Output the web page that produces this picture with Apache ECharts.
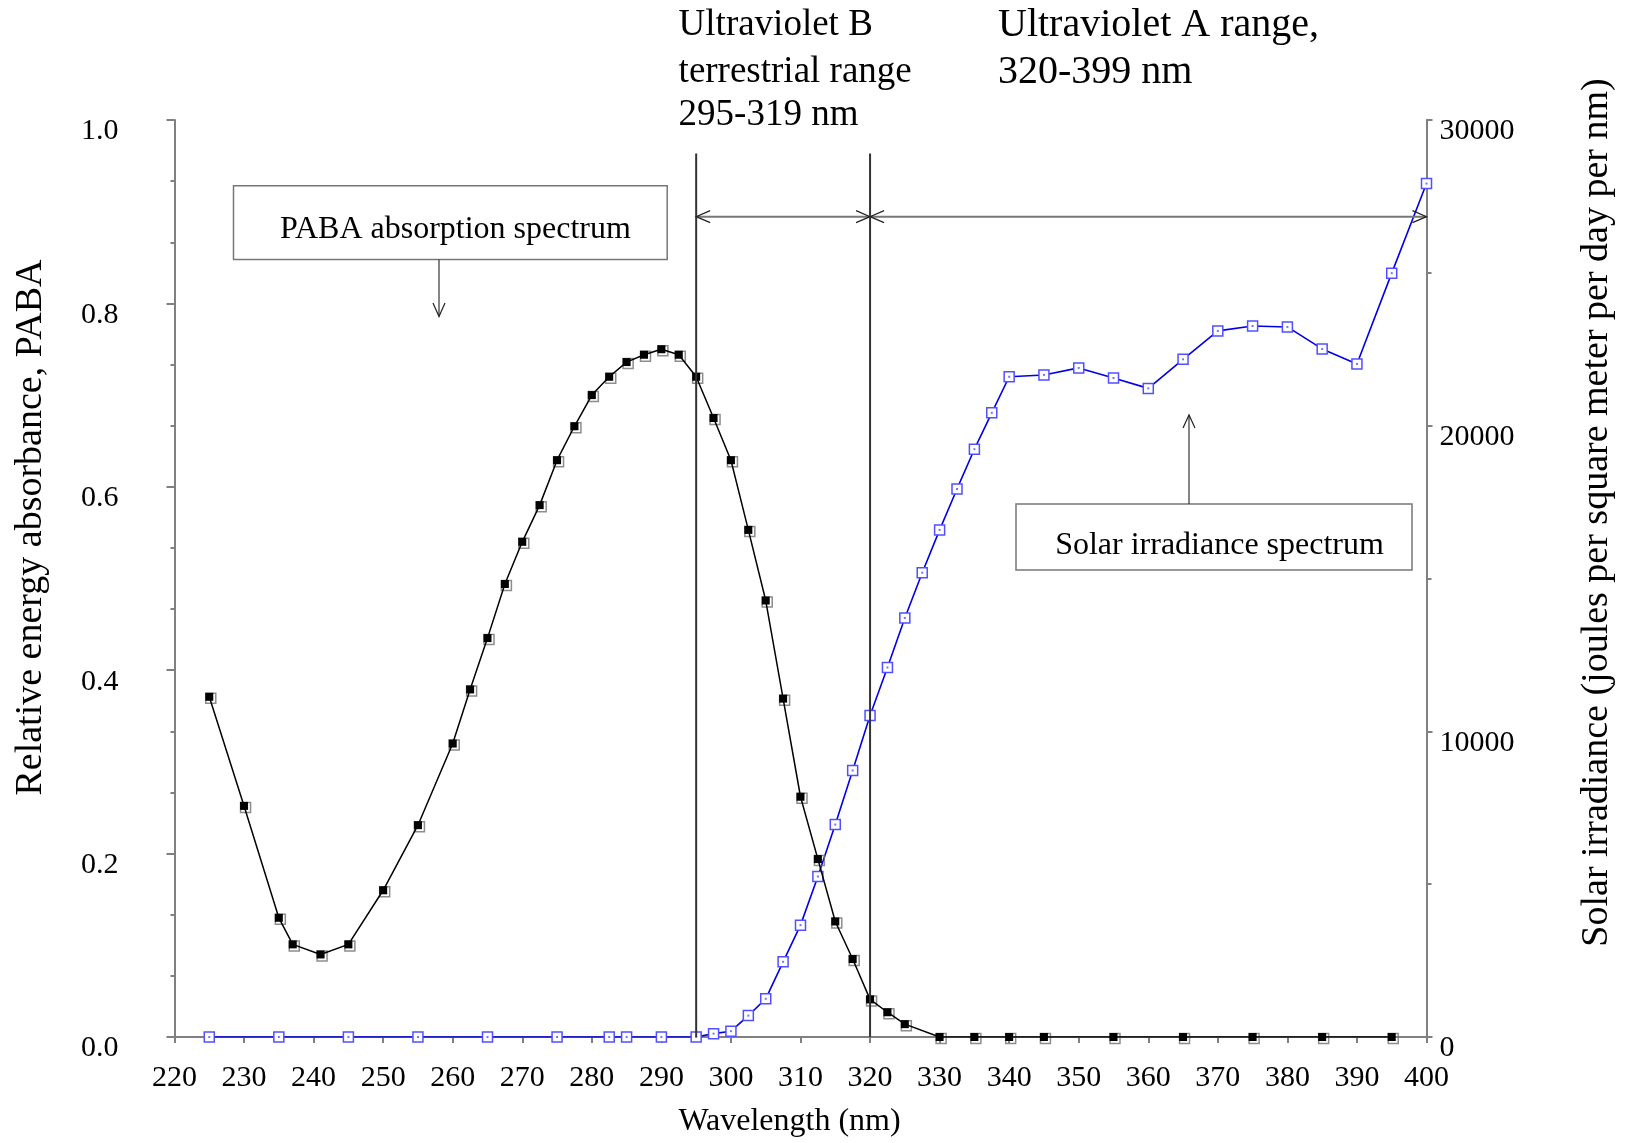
<!DOCTYPE html>
<html><head><meta charset="utf-8">
<script src="https://cdn.jsdelivr.net/npm/echarts@6/dist/echarts.min.js"></script>
<style>html,body{margin:0;padding:0;background:#fff}#c{width:1627px;height:1143px}</style>
</head><body><div id="c"></div>
<script>
// ---- data ----
const pabaWavelengths = [225,230,235,237,241,245,250,255,260,262.5,265,267.5,270,272.5,275,277.5,280,282.5,285,287.5,290,292.5,295,297.5,300,302.5,305,307.5,310,312.5,315,317.5,320,322.5,325,330,335,340,345,355,365,375,385,395];
const pabaAbsorbance = [0.371,0.252,0.130,0.101,0.090,0.101,0.160,0.231,0.320,0.379,0.435,0.494,0.540,0.580,0.629,0.666,0.700,0.720,0.736,0.744,0.750,0.744,0.720,0.675,0.629,0.553,0.476,0.369,0.262,0.194,0.126,0.085,0.041,0.027,0.014,0,0,0,0,0,0,0,0,0];
const solarWavelengths = [225,235,245,255,265,275,282.5,285,290,295,297.5,300,302.5,305,307.5,310,312.5,315,317.5,320,322.5,325,327.5,330,332.5,335,337.5,340,345,350,355,360,365,370,375,380,385,390,395,400];
const solarIrradiance = [0,0,0,0,0,0,0,0,0,0,110,190,700,1250,2460,3660,5250,6950,8720,10520,12090,13710,15190,16590,17930,19230,20420,21600,21660,21890,21560,21220,22170,23100,23260,23230,22510,22020,24990,27920];
const uvRanges = [[295,320],[320,400]];
const uvBoundaries = [295,320];
const xRange = [220,400], xStep = 10;
const leftRange = [0,1], leftStep = 0.2;
const rightRange = [0,30000], rightStep = 10000;

// ---- annotation geometry (left-axis units) ----
const BOUNDARY_TOP = 0.9635;
const ARROW_LEVEL = 0.8946;

const FONT = "'Liberation Serif','Times New Roman',serif";
const AXIS_GRAY = '#808080';

const pabaData = pabaWavelengths.map((w,i)=>[w,pabaAbsorbance[i]]);
const solarData = solarWavelengths.map((w,i)=>[w,solarIrradiance[i]]);

const chart = echarts.init(document.getElementById('c'), null, {renderer:'canvas'});

function arrowHead(tip, dir, len, half){
  const bx = tip[0]-dir[0]*len, by = tip[1]-dir[1]*len;
  const px = -dir[1]*half, py = dir[0]*half;
  return {type:'polyline', shape:{points:[[bx+px,by+py],[tip[0],tip[1]],[bx-px,by-py]]},
          style:{stroke:'#222', lineWidth:1.2, fill:null}};
}

const option = {
  animation:false,
  backgroundColor:'#fff',
  textStyle:{fontFamily:FONT},
  grid:{left:174.5, right:200.5, top:120, bottom:103, containLabel:false},
  xAxis:{
    type:'value', min:xRange[0], max:xRange[1], interval:xStep,
    name:'Wavelength (nm)', nameLocation:'middle', nameGap:69,
    nameTextStyle:{fontFamily:FONT, fontSize:32, color:'#000', padding:[0,22,0,0]},
    axisLine:{show:true, onZero:false, lineStyle:{color:AXIS_GRAY, width:2}},
    axisTick:{show:true, inside:false, length:6, lineStyle:{color:AXIS_GRAY, width:2}},
    axisLabel:{fontFamily:FONT, fontSize:30, color:'#000', margin:26},
    splitLine:{show:false}
  },
  yAxis:[{
    type:'value', position:'left', min:leftRange[0], max:leftRange[1], interval:leftStep,
    name:'Relative energy absorbance, PABA', nameLocation:'middle', nameGap:124, nameRotate:90,
    nameTextStyle:{fontFamily:FONT, fontSize:38, color:'#000', padding:[0,0,0,102]},
    axisLine:{show:true, onZero:false, lineStyle:{color:AXIS_GRAY, width:2}},
    axisTick:{show:true, inside:false, length:8, lineStyle:{color:AXIS_GRAY, width:2}},
    minorTick:{show:true, splitNumber:3, length:4, lineStyle:{color:AXIS_GRAY, width:2}},
    axisLabel:{fontFamily:FONT, fontSize:30, color:'#000', margin:56, verticalAlign:'top', lineHeight:23,
      formatter:v=>v.toFixed(1)},
    splitLine:{show:false}
  },{
    type:'value', position:'right', min:rightRange[0], max:rightRange[1], interval:rightStep,
    name:'Solar irradiance (joules per square meter per day per nm)', nameLocation:'middle', nameGap:152, nameRotate:90,
    nameTextStyle:{fontFamily:FONT, fontSize:38, color:'#000', padding:[0,0,0,132]},
    axisLine:{show:true, onZero:false, lineStyle:{color:AXIS_GRAY, width:2}},
    axisTick:{show:true, inside:false, length:6, lineStyle:{color:AXIS_GRAY, width:2}},
    minorTick:{show:true, splitNumber:2, length:5, lineStyle:{color:AXIS_GRAY, width:2}},
    axisLabel:{fontFamily:FONT, fontSize:30, color:'#000', margin:13, verticalAlign:'top', lineHeight:23,
      formatter:v=>String(v)},
    splitLine:{show:false}
  }],
  series:[
    {
      name:'Solar irradiance', type:'line', yAxisIndex:1, data:solarData,
      symbol:'rect', symbolSize:10, showAllSymbol:true,
      lineStyle:{color:'#0000e6', width:1.6},
      itemStyle:{color:'#fff', borderColor:'#5050ff', borderWidth:1.5},
      z:3
    },
    {
      name:'Solar dot', type:'scatter', yAxisIndex:1, data:solarData,
      symbol:'rect', symbolSize:2, itemStyle:{color:'#5050ff'}, silent:true, z:4
    },
    {
      name:'PABA outline', type:'scatter', data:pabaData,
      symbol:'rect', symbolSize:10, symbolOffset:[1.5,1.5],
      itemStyle:{color:'rgba(0,0,0,0)', borderColor:'#707070', borderWidth:1.5}, silent:true, z:5
    },
    {
      name:'PABA absorption', type:'line', data:pabaData,
      symbol:'rect', symbolSize:8, showAllSymbol:true,
      lineStyle:{color:'#000', width:1.5},
      itemStyle:{color:'#000'},
      z:6
    },
    {
      name:'UV ranges', type:'custom', data:[[300,0.5]], clip:false, silent:true, z:7,
      renderItem:function(params, api){
        const children=[];
        uvBoundaries.forEach(x=>{
          const p0=api.coord([x,leftRange[0]]), p1=api.coord([x,BOUNDARY_TOP]);
          children.push({type:'line', shape:{x1:p0[0],y1:p0[1],x2:p1[0],y2:p1[1]}, style:{stroke:'#333', lineWidth:2}});
        });
        uvRanges.forEach(r=>{
          const a=api.coord([r[0],ARROW_LEVEL]), b=api.coord([r[1],ARROW_LEVEL]);
          children.push({type:'line', shape:{x1:a[0],y1:a[1],x2:b[0],y2:b[1]}, style:{stroke:'#777', lineWidth:2}});
          children.push(arrowHead(a,[-1,0],14,6));
          children.push(arrowHead(b,[1,0],14,6));
        });
        return {type:'group', children};
      }
    }
  ],
  graphic:[
    {type:'rect', shape:{x:233.5, y:185.7, width:433.7, height:73.7}, style:{fill:null, stroke:'#777', lineWidth:1.5}},
    {type:'text', x:455.5, y:230, style:{text:'PABA absorption spectrum', font:"32px "+FONT, fill:'#000', align:'center', verticalAlign:'middle'}},
    {type:'line', shape:{x1:439, y1:259.4, x2:439, y2:316.5}, style:{stroke:'#333', lineWidth:1.2}},
    {type:'polyline', shape:{points:[[433,303],[439,316.5],[445,303]]}, style:{stroke:'#222', lineWidth:1.2, fill:null}},

    {type:'rect', shape:{x:1016, y:504, width:396, height:66}, style:{fill:null, stroke:'#777', lineWidth:1.5}},
    {type:'text', x:1219.5, y:546, style:{text:'Solar irradiance spectrum', font:"32px "+FONT, fill:'#000', align:'center', verticalAlign:'middle'}},
    {type:'line', shape:{x1:1189, y1:504, x2:1189, y2:415}, style:{stroke:'#333', lineWidth:1.2}},
    {type:'polyline', shape:{points:[[1183,428],[1189,415],[1195,428]]}, style:{stroke:'#222', lineWidth:1.2, fill:null}},

    {type:'text', x:678.6, y:25, style:{text:'Ultraviolet B', font:"37px "+FONT, fill:'#000', align:'left', verticalAlign:'middle'}},
    {type:'text', x:678.6, y:72, style:{text:'terrestrial range', font:"37px "+FONT, fill:'#000', align:'left', verticalAlign:'middle'}},
    {type:'text', x:678.6, y:115, style:{text:'295-319 nm', font:"37px "+FONT, fill:'#000', align:'left', verticalAlign:'middle'}},
    {type:'text', x:998, y:25, style:{text:'Ultraviolet A range,', font:"40px "+FONT, fill:'#000', align:'left', verticalAlign:'middle'}},
    {type:'text', x:998, y:72, style:{text:'320-399 nm', font:"40px "+FONT, fill:'#000', align:'left', verticalAlign:'middle'}}
  ]
};
chart.setOption(option);
</script>
</body></html>
